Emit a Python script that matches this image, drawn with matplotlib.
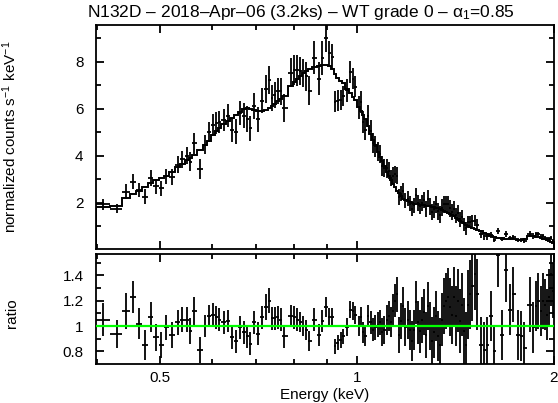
import numpy as np
import matplotlib
matplotlib.use("Agg")
import matplotlib.pyplot as plt
from matplotlib.ticker import FixedLocator, FixedFormatter, NullFormatter

plt.rcParams['font.family'] = ['Liberation Sans', 'DejaVu Sans']
plt.rcParams['mathtext.fontset'] = 'custom'
plt.rcParams['mathtext.rm'] = 'Liberation Sans'
plt.rcParams['mathtext.it'] = 'Liberation Sans:italic'
plt.rcParams['font.size'] = 11
plt.rcParams['axes.linewidth'] = 1.3

title = 'N132D – 2018–Apr–06 (3.2ks) – WT grade 0 – α$_{1}$=0.85'

# bin centres (keV)
energy = [
    0.409, 0.430, 0.444, 0.455, 0.464, 0.474, 0.484, 0.493, 0.502, 0.511,
    0.522, 0.533, 0.540, 0.550, 0.556, 0.564, 0.576, 0.586, 0.594, 0.603,
    0.609, 0.615, 0.626, 0.635, 0.644, 0.653, 0.662, 0.672, 0.679, 0.686,
    0.696, 0.706, 0.716, 0.726, 0.734, 0.741, 0.749, 0.757, 0.765, 0.773,
    0.793, 0.801, 0.810, 0.818, 0.827, 0.836, 0.845, 0.860, 0.875, 0.884,
    0.897, 0.906, 0.916, 0.925, 0.935, 0.945, 0.952, 0.965, 0.976, 0.986,
    0.993, 1.007, 1.014, 1.021, 1.029, 1.039, 1.050, 1.058, 1.065, 1.077,
    1.084, 1.092, 1.100, 1.111, 1.119, 1.127, 1.135, 1.143, 1.151, 1.159,
    1.168, 1.176, 1.184, 1.197, 1.205, 1.214, 1.222, 1.231, 1.240, 1.248,
    1.257, 1.266, 1.275, 1.284, 1.293, 1.302, 1.312, 1.321, 1.330, 1.340,
    1.349, 1.359, 1.368, 1.378, 1.388, 1.397, 1.407, 1.417, 1.427, 1.437,
    1.448, 1.458, 1.468, 1.478, 1.489, 1.499, 1.515, 1.526, 1.548, 1.564,
    1.581, 1.603, 1.620, 1.643, 1.666, 1.690, 1.714, 1.732, 1.763, 1.781,
    1.800, 1.839, 1.858, 1.878, 1.891, 1.911, 1.925, 1.938, 1.952, 1.966,
    1.980, 1.994,
]

# folded model (counts/s/keV)
model = [
    1.84, 1.86, 2.21, 2.36, 2.49, 2.66, 2.84, 2.96, 3.07, 3.16,
    3.32, 3.52, 3.67, 3.82, 3.91, 4.05, 4.26, 4.47, 4.65, 4.88,
    5.04, 5.17, 5.36, 5.49, 5.61, 5.72, 5.88, 6.01, 6.04, 6.01,
    5.94, 5.91, 5.92, 5.95, 6.03, 6.10, 6.21, 6.32, 6.43, 6.56,
    6.98, 7.14, 7.27, 7.40, 7.51, 7.61, 7.69, 7.78, 7.83, 7.85,
    7.85, 7.81, 7.68, 7.50, 7.30, 7.18, 7.10, 6.86, 6.68, 6.50,
    6.36, 6.06, 5.89, 5.72, 5.55, 5.26, 4.92, 4.69, 4.46, 4.14,
    3.95, 3.76, 3.58, 3.30, 3.12, 2.96, 2.81, 2.67, 2.52, 2.40,
    2.29, 2.17, 2.13, 2.07, 2.02, 1.98, 1.95, 1.94, 1.93, 1.92,
    1.91, 1.90, 1.88, 1.87, 1.85, 1.83, 1.81, 1.79, 1.77, 1.75,
    1.71, 1.66, 1.62, 1.57, 1.53, 1.47, 1.42, 1.36, 1.30, 1.24,
    1.18, 1.12, 1.07, 1.01, 0.95, 0.92, 0.88, 0.85, 0.78, 0.73,
    0.68, 0.59, 0.54, 0.51, 0.49, 0.47, 0.45, 0.44, 0.43, 0.43,
    0.47, 0.57, 0.59, 0.56, 0.54, 0.50, 0.47, 0.44, 0.41, 0.38,
    0.34, 0.30,
]

# data / model
ratio = [
    1.05, 0.94, 1.12, 1.23, 1.02, 0.85, 1.07, 0.91, 0.85, 0.99,
    0.93, 1.03, 1.05, 1.05, 0.96, 1.12, 0.81, 1.00, 1.08, 1.09,
    1.07, 1.05, 1.03, 1.04, 0.91, 0.88, 0.99, 0.95, 0.92, 0.86,
    1.03, 0.94, 1.07, 1.15, 1.20, 1.06, 1.06, 1.07, 1.05, 0.92,
    1.08, 1.07, 1.05, 1.03, 1.00, 0.97, 0.88, 1.05, 0.93, 1.04,
    1.15, 1.07, 1.07, 0.84, 0.87, 0.89, 0.92, 0.99, 1.13, 1.12,
    1.09, 1.00, 1.07, 0.95, 0.92, 1.08, 1.03, 0.97, 0.99, 1.01,
    1.03, 0.95, 0.97, 1.05, 1.08, 1.03, 1.12, 1.20, 1.25, 0.93,
    1.04, 1.16, 0.99, 1.05, 0.97, 0.88, 0.97, 1.19, 1.03, 0.96,
    1.05, 1.11, 0.93, 1.16, 1.00, 0.88, 0.95, 1.08, 0.92, 0.85,
    1.05, 1.16, 1.20, 1.23, 1.15, 1.09, 1.23, 1.08, 1.20, 1.04,
    1.17, 0.96, 0.85, 1.17, 1.25, 1.32, 1.41, 1.25, 0.85, 0.81,
    0.85, 1.08, 0.80, 1.56, 0.93, 1.44, 1.13, 1.25, 0.93, 0.92,
    0.83, 1.17, 0.99, 1.16, 1.20, 1.12, 1.20, 1.17, 1.09, 1.23,
    1.41, 1.28,
]

ratio_err = [
    0.13, 0.11, 0.14, 0.13, 0.12, 0.12, 0.12, 0.11, 0.10, 0.10,
    0.10, 0.10, 0.10, 0.10, 0.10, 0.11, 0.10, 0.09, 0.09, 0.09,
    0.09, 0.09, 0.09, 0.09, 0.09, 0.09, 0.09, 0.09, 0.09, 0.09,
    0.09, 0.09, 0.09, 0.10, 0.10, 0.09, 0.09, 0.09, 0.09, 0.09,
    0.09, 0.09, 0.09, 0.08, 0.08, 0.08, 0.08, 0.09, 0.09, 0.09,
    0.08, 0.07, 0.07, 0.06, 0.06, 0.06, 0.06, 0.07, 0.07, 0.07,
    0.07, 0.08, 0.08, 0.08, 0.08, 0.09, 0.09, 0.09, 0.10, 0.10,
    0.10, 0.11, 0.11, 0.12, 0.12, 0.12, 0.13, 0.13, 0.14, 0.14,
    0.14, 0.15, 0.15, 0.15, 0.16, 0.16, 0.16, 0.17, 0.17, 0.17,
    0.18, 0.18, 0.18, 0.19, 0.19, 0.19, 0.20, 0.20, 0.20, 0.21,
    0.21, 0.22, 0.22, 0.23, 0.23, 0.23, 0.24, 0.24, 0.25, 0.25,
    0.25, 0.26, 0.26, 0.27, 0.27, 0.28, 0.28, 0.28, 0.22, 0.22,
    0.22, 0.20, 0.20, 0.25, 0.20, 0.25, 0.20, 0.22, 0.20, 0.20,
    0.20, 0.22, 0.20, 0.20, 0.22, 0.20, 0.22, 0.20, 0.20, 0.22,
    0.25, 0.22,
]

energy = np.array(energy)
model = np.array(model)
ratio = np.array(ratio)
ratio_err = np.array(ratio_err)

rate = ratio * model
rate_err = ratio_err * model

# contiguous channel edges
mid = np.sqrt(energy[1:] * energy[:-1])
edges = np.concatenate([[energy[0] ** 2 / mid[0]], mid, [energy[-1] ** 2 / mid[-1]]])
xerr = [energy - edges[:-1], edges[1:] - energy]

W, H = 558, 403
fig = plt.figure(figsize=(W / 100, H / 100), dpi=100)
ax1 = fig.add_axes([96 / W, 1 - 249 / H, 458 / W, 224 / H])
ax2 = fig.add_axes([96 / W, 1 - 364 / H, 458 / W, 110 / H])

ax1.errorbar(energy, rate, xerr=xerr, yerr=rate_err, fmt='none',
             ecolor='black', elinewidth=1.3)
ax1.stairs(model, edges, color='black', lw=1.4)

ax2.errorbar(energy, ratio, xerr=xerr, yerr=ratio_err, fmt='none',
             ecolor='black', elinewidth=1.3)
ax2.axhline(1.0, color='#00ff00', lw=1.6, zorder=5)

for ax in (ax1, ax2):
    ax.set_xscale('log')
    ax.set_xlim(0.399, 2.0)
    ax.xaxis.set_major_locator(FixedLocator([0.5, 1, 2]))
    ax.xaxis.set_minor_locator(FixedLocator([0.4, 0.6, 0.7, 0.8, 0.9]))
    ax.xaxis.set_minor_formatter(NullFormatter())
    ax.tick_params(which='both', direction='in', top=True, right=True,
                   width=1.3)
    ax.tick_params(which='major', length=6)
    ax.tick_params(which='minor', length=3.5)
    ax.tick_params(axis='y', pad=9)

ax1.xaxis.set_major_formatter(NullFormatter())
ax2.xaxis.set_major_formatter(FixedFormatter(['0.5', '1', '2']))
ax2.tick_params(axis='x', pad=5)

ax1.set_ylim(0.03, 9.57)
ax1.set_yticks([2, 4, 6, 8])
ax1.set_yticks([1, 3, 5, 7, 9], minor=True)

ax2.set_ylim(0.70, 1.57)
ax2.set_yticks([0.8, 1.0, 1.2, 1.4])
ax2.set_yticklabels(['0.8', '1', '1.2', '1.4'])
ax2.set_yticks([0.9, 1.1, 1.3, 1.5], minor=True)

ax1.set_ylabel('normalized counts s$^{-1}$ keV$^{-1}$')
ax2.set_ylabel('ratio')
ax1.yaxis.set_label_coords(-77 / 458, 0.5)
ax2.yaxis.set_label_coords(-77 / 458, 0.46)
ax2.set_xlabel('Energy (keV)', labelpad=2)

fig.text(0.54, 1 - 12 / H, title, ha='center', va='center', fontsize=12.5)

fig.savefig('out.png', dpi=100)
